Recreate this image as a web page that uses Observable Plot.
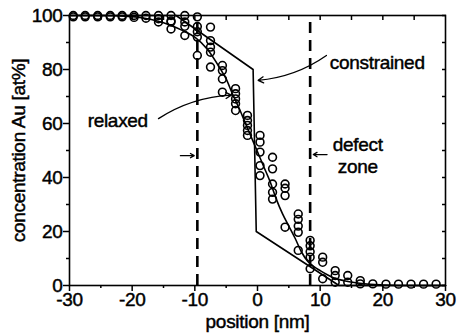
<!DOCTYPE html>
<html>
<head>
<meta charset="utf-8">
<script src="https://cdn.jsdelivr.net/npm/d3@7"></script>
<script src="https://cdn.jsdelivr.net/npm/@observablehq/plot@0.6"></script>
<style>
  body { margin: 0; background: #fff; }
  svg text { letter-spacing: -0.3px; stroke: #000; stroke-width: 0.45px; }
</style>
</head>
<body>
<div id="chart"></div>
<script>
// Measured Au concentration profile (columns of repeated measurements)
const measuredPosition = [-29.4, -27.5, -25.5, -23.5, -21.6, -19.7, -17.8, -15.8, -13.8, -11.6,
  -9.6, -7.5, -5.6, -3.5, -1.6, 0.4, 2.4, 4.4, 6.5, 8.4,
  10.4, 12.4, 14.4, 16.4, 18.4, 20.5, 22.5, 24.5, 26.5, 28.5];
const measuredAu = [
  [100, 99.5], [100, 99.5], [100, 99.5], [100, 99.5], [100, 99.5],
  [100, 99.3], [100, 99], [100, 98.8, 97.6], [100, 98, 97.6, 95], [100, 97.6, 96, 92.6],
  [99.5, 95.9, 94, 92, 85.2], [95.7, 90.7, 88.3, 86.4, 80.9], [81.5, 79.6, 76.5, 71.6],
  [72.9, 71, 69.1, 67.3, 64.8], [63, 61.1, 59.3, 57.4, 55.6], [55.6, 53.1, 49.4, 44.4, 40.7],
  [47.5, 43.2, 37.6, 34.5, 32], [37.6, 36, 33.3, 21.6], [26.5, 24.5, 22, 19.7, 13],
  [16.7, 14.7, 12.5, 10.5, 6.2], [10.5, 8.6, 2.5], [5.5, 3.7, 1.2], [3.7, 1.2], [1.8, 0.6],
  [0.6], [0.5], [0.5], [0.5], [0.5], [0.5]
];

// Relaxed profile
const relaxedPosition = [-30, -25, -20, -18, -16, -14, -12, -10, -8, -6, -5, -4, -3, -2, -1, 0,
  1, 2, 3, 4, 5, 6, 7, 8, 9, 10, 12, 14, 16, 18, 20, 25, 30];
const relaxedAu = [100, 100, 99.6, 99, 98, 96.5, 94.5, 92, 87.5, 80.5, 76.5, 71, 66, 60.5, 55, 49.5,
  44, 38.5, 32, 26.5, 22, 17.5, 12.5, 9, 7, 5.5, 3, 1.7, 0.9, 0.4, 0.2, 0, 0];

// Constrained profile
const constrainedPosition = [-30, -13, -0.7, -0.2, 13, 30];
const constrainedAu = [100, 100, 80, 20, 0, 0];

// Defect zone boundaries
const defectZone = [-9.6, 8.4];

// Axis ticks
const xTicks = [-30, -20, -10, 0, 10, 20, 30];
const xMinorTicks = [-25, -15, -5, 5, 15, 25];
const xTopTicks = [-25, -20, -15, -10, -5, 0, 5, 10, 15, 20, 25];
const yTicks = [0, 20, 40, 60, 80, 100];
const yMinorTicks = [10, 30, 50, 70, 90];

const measured = measuredPosition.flatMap((x, i) => measuredAu[i].map(y => ({x, y})));
const relaxed = relaxedPosition.map((x, i) => ({x, y: relaxedAu[i]}));
const constrained = constrainedPosition.map((x, i) => ({x, y: constrainedAu[i]}));

const font = "'Liberation Sans', Arial, Helvetica, sans-serif";
const noLabel = () => "";

const chart = Plot.plot({
  width: 459,
  height: 334,
  marginLeft: 69,
  marginRight: 14,
  marginTop: 15,
  marginBottom: 49,
  style: {fontFamily: font, fontSize: "19px", color: "#000", background: "#fff"},
  x: {domain: [-30, 30]},
  y: {domain: [0, 100]},
  marks: [
    // axes: outward ticks left/bottom, inward ticks top/right
    Plot.axisX({ticks: xTicks, tickSize: 6, tickPadding: 1, tickFormat: d => String(d), fontSize: 19, strokeWidth: 1.5,
      label: "position [nm]", labelAnchor: "center", labelOffset: 42, labelArrow: "none"}),
    Plot.axisX({ticks: xMinorTicks, tickSize: 3, tickFormat: noLabel, label: null, strokeWidth: 1.5}),
    Plot.axisX({anchor: "top", ticks: xTopTicks, tickSize: 4, dy: 4, tickFormat: noLabel, label: null, strokeWidth: 1.5}),
    Plot.axisY({ticks: yTicks, tickSize: 6, tickPadding: 1, tickFormat: d => String(d), fontSize: 19, strokeWidth: 1.5, label: null}),
    Plot.axisY({ticks: [], tickSize: 0, fontSize: 19, dy: 7,
      label: "concentration Au [at%]", labelAnchor: "center", labelOffset: 58, labelArrow: "none"}),
    Plot.axisY({ticks: yMinorTicks, tickSize: 3, tickFormat: noLabel, label: null, strokeWidth: 1.5}),
    Plot.axisY({anchor: "right", ticks: yTicks.concat(yMinorTicks), tickSize: 4, dx: -4, tickFormat: noLabel, label: null, strokeWidth: 1.5}),
    Plot.frame({strokeWidth: 1.6}),

    // defect zone boundaries
    Plot.ruleX(defectZone, {y1: 0, y2: 100, strokeWidth: 2.6, strokeDasharray: "11,7"}),

    // model profiles
    Plot.line(constrained, {x: "x", y: "y", strokeWidth: 1.6}),
    Plot.line(relaxed, {x: "x", y: "y", strokeWidth: 1.6, curve: "monotone-x"}),

    // measurements
    Plot.dot(measured, {x: "x", y: "y", r: 3.9, stroke: "#000", strokeWidth: 1.6, fill: "none"}),

    // annotations
    Plot.text(["relaxed"], {x: -22.3, y: 61, fontSize: 19}),
    Plot.arrow([{x1: -15.8, y1: 61.8, x2: -4.2, y2: 70.5}], {x1: "x1", y1: "y1", x2: "x2", y2: "y2", bend: 15, headLength: 7, strokeWidth: 1.3}),
    Plot.text(["constrained"], {x: 19.1, y: 82.6, fontSize: 19}),
    Plot.arrow([{x1: 11.0, y1: 85.2, x2: 0.1, y2: 76}], {x1: "x1", y1: "y1", x2: "x2", y2: "y2", bend: 15, headLength: 7, strokeWidth: 1.3}),
    Plot.text(["defect"], {x: 16.0, y: 51.9, fontSize: 19}),
    Plot.text(["zone"], {x: 16.0, y: 44.1, fontSize: 19}),
    Plot.arrow([{x1: -12.3, y1: 48.1, x2: -10.1, y2: 48.1}], {x1: "x1", y1: "y1", x2: "x2", y2: "y2", headLength: 5, strokeWidth: 1.3}),
    Plot.arrow([{x1: 11.1, y1: 48.5, x2: 8.9, y2: 48.5}], {x1: "x1", y1: "y1", x2: "x2", y2: "y2", headLength: 5, strokeWidth: 1.3})
  ]
});

document.getElementById("chart").append(chart);
</script>
</body>
</html>
